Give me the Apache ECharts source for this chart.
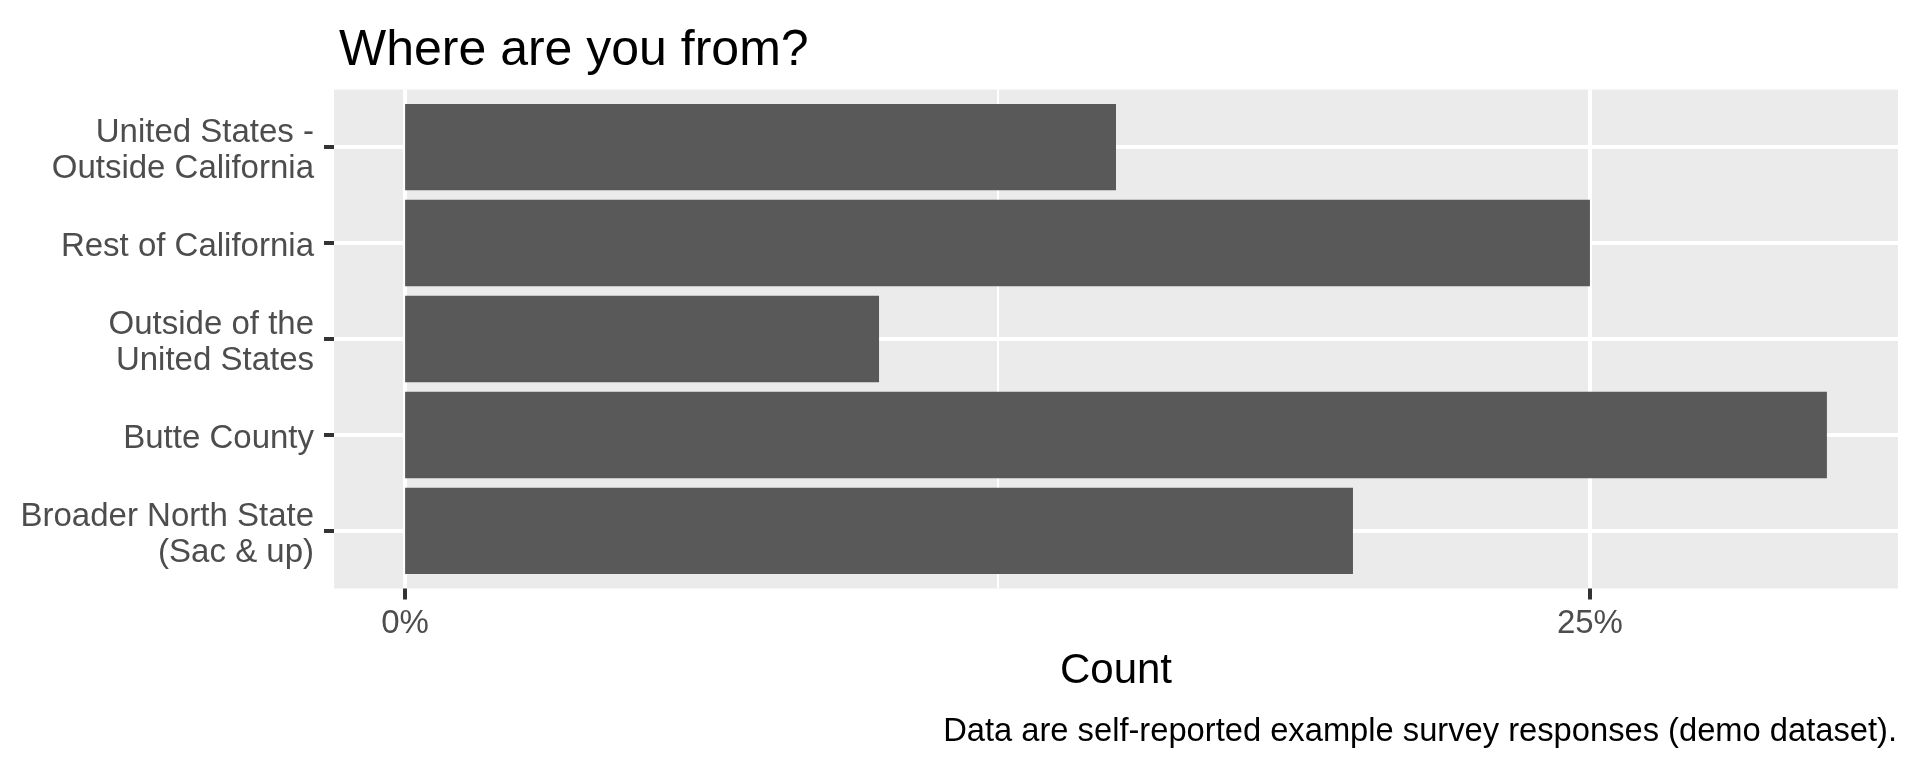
<!DOCTYPE html>
<html>
<head>
<meta charset="utf-8">
<title>Where are you from?</title>
<script src="https://cdn.jsdelivr.net/npm/echarts@6/dist/echarts.min.js"></script>
<style>
    html, body { margin: 0; padding: 0; background: #fff; }
    #chart { width: 1920px; height: 768px; }
</style>
</head>
<body>
<div id="chart"></div>
<script>
    // categories, bottom to top (ggplot factor order)
    let regions = [
        'Broader North State\n(Sac & up)',
        'Butte County',
        'Outside of the\nUnited States',
        'Rest of California',
        'United States -\nOutside California'
    ];
    // share of responses, percent
    let shares = [20, 30, 10, 25, 15];
    let xBreaks = [0, 25];
    let xMinorBreaks = [12.5];
    let yBreaks = [1, 2, 3, 4, 5];

    let font = "'Liberation Sans', Arial, sans-serif";

    let chart = echarts.init(document.getElementById('chart'));

    let barData = shares.map((v, i) => [v, i + 1]);
    // nudge the category text a few px down so it sits like ggplot's
    let labelNudge = 0.045;

    let option = {
        backgroundColor: '#fff',
        animation: false,
        title: [
            {
                text: 'Where are you from?',
                left: 334,
                top: 21,
                textStyle: { fontFamily: font, fontSize: 50, fontWeight: 'normal', color: '#000' }
            },
            {
                text: 'Data are self-reported example survey responses (demo dataset).',
                right: 18,
                top: 710,
                textStyle: { fontFamily: font, fontSize: 32.7, fontWeight: 'normal', color: '#000' }
            }
        ],
        grid: {
            left: 334,
            right: 22,
            top: 89.5,
            bottom: 179.5,
            show: true,
            backgroundColor: '#EBEBEB',
            borderWidth: 0
        },
        xAxis: [
            {
                type: 'value',
                min: -1.5,
                max: 31.5,
                name: 'Count',
                nameLocation: 'middle',
                nameGap: 62,
                nameTextStyle: { fontFamily: font, fontSize: 42, color: '#000' },
                axisLine: { show: false, onZero: false },
                axisTick: {
                    show: true,
                    length: 11,
                    customValues: xBreaks,
                    lineStyle: { color: '#333', width: 4 }
                },
                axisLabel: {
                    customValues: xBreaks,
                    margin: 19,
                    fontFamily: font,
                    fontSize: 33,
                    color: '#4D4D4D',
                    formatter: v => v + '%'
                },
                splitLine: { show: true, lineStyle: { color: '#fff', width: 4 } }
            },
            {
                // minor grid only
                type: 'value',
                min: -1.5,
                max: 31.5,
                axisLine: { show: false, onZero: false },
                axisTick: { show: false, customValues: xMinorBreaks },
                axisLabel: { show: false, customValues: xMinorBreaks },
                splitLine: { show: true, lineStyle: { color: '#fff', width: 2 } }
            }
        ],
        yAxis: {
            type: 'value',
            min: 0.4,
            max: 5.6,
            axisLine: { show: false, onZero: false },
            axisTick: {
                show: true,
                length: 10,
                customValues: yBreaks,
                lineStyle: { color: '#333', width: 4 }
            },
            axisLabel: {
                customValues: yBreaks.map(v => v - labelNudge),
                margin: 20,
                fontFamily: font,
                fontSize: 33,
                lineHeight: 36,
                color: '#4D4D4D',
                align: 'right',
                formatter: v => regions[Math.round(v) - 1] || ''
            },
            splitLine: { show: true, lineStyle: { color: '#fff', width: 4 } }
        },
        series: [
            {
                type: 'custom',
                xAxisIndex: 0,
                yAxisIndex: 0,
                data: barData,
                encode: { x: 0, y: 1 },
                renderItem: function (params, api) {
                    let start = api.coord([0, api.value(1)]);
                    let end = api.coord([api.value(0), api.value(1)]);
                    let h = api.size([0, 0.9])[1];
                    return {
                        type: 'rect',
                        shape: { x: start[0], y: start[1] - h / 2, width: end[0] - start[0], height: h },
                        style: { fill: '#595959' }
                    };
                }
            }
        ]
    };

    chart.setOption(option);
</script>
</body>
</html>
